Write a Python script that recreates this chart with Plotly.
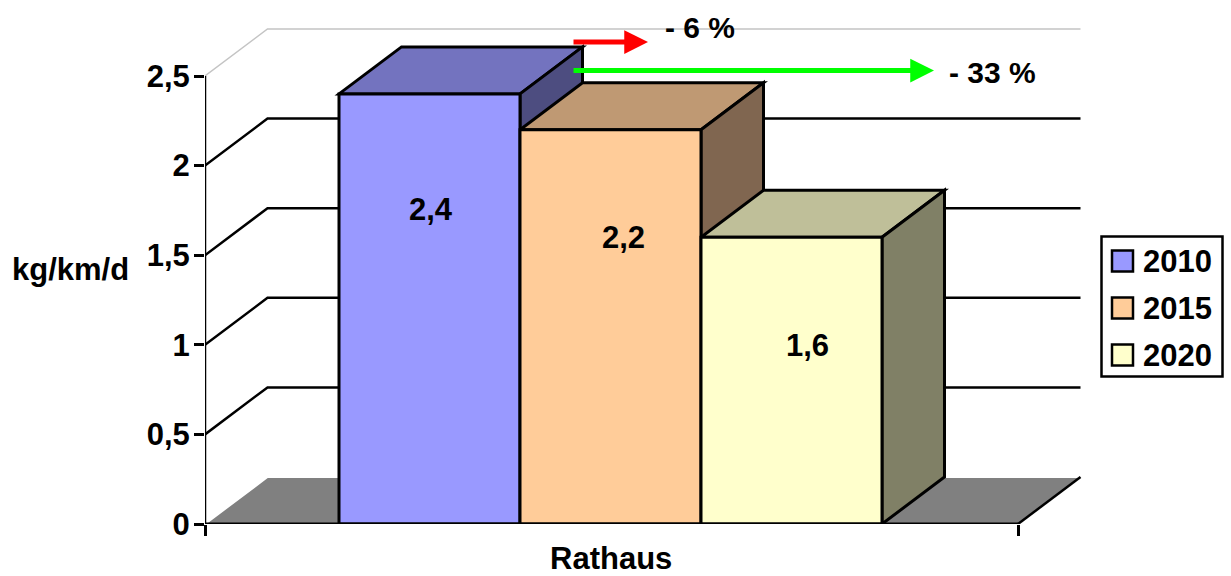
import plotly.graph_objects as go

categories = ["Rathaus"]
years = ["2010", "2015", "2020"]
values = [2.4, 2.2, 1.6]
value_labels = ["2,4", "2,2", "1,6"]
y_ticks = [0, 0.5, 1, 1.5, 2, 2.5]
y_tick_labels = ["0", "0,5", "1", "1,5", "2", "2,5"]
y_title = "kg/km/d"
changes = ["- 6 %", "- 33 %"]

front_colors = ["#9999FF", "#FFCC99", "#FFFFCC"]
top_colors = ["#7373BF", "#BF9973", "#BFBF99"]
side_colors = ["#4D4D80", "#806650", "#808066"]

# geometry of the pseudo-3D box, in axis units
PW = 877.0        # plot width, pixels
PH = 497.0        # plot height, pixels
PX_X = 813.0      # pixels per category
PX_Y = 179.2      # pixels per value unit
DX = 62.5 / PX_X
DY = 47.0 / PX_Y
W = 181.0 / PX_X
X0 = (339.0 - 205.0) / PX_X
X_MAX = PW / PX_X
Y_MAX = PH / PX_Y
FONT = "Liberation Sans"
FS = 30


def px_x(p):
    return (p - 205.0) / PX_X


def px_y(p):
    return (524.0 - p) / PX_Y


def poly(points, fill, line="black", width=3):
    path = "M" + " L".join(f"{x:.5f},{y:.5f}" for x, y in points) + " Z"
    return dict(type="path", path=path, xref="x", yref="y", layer="below",
                fillcolor=fill, line=dict(color=line, width=width))


def seg(points, color="black", width=2.5, layer="below"):
    path = "M" + " L".join(f"{x:.5f},{y:.5f}" for x, y in points)
    return dict(type="path", path=path, xref="x", yref="y", layer=layer,
                line=dict(color=color, width=width))


shapes = []
# floor
shapes.append(poly([(0, 0), (1, 0), (1 + DX, DY), (DX, DY)], "#808080", "rgba(0,0,0,0)", 0))
shapes.append(seg([(0, 0), (DX, DY), (1 + DX, DY)], "white", 2))
shapes.append(seg([(1, 0), (1 + DX, DY)], "black", 2.5))
# back wall lines
for v in y_ticks[1:]:
    col = "#C4C4C4" if v == 2.5 else "black"
    wid = 1.5 if v == 2.5 else 2.5
    shapes.append(seg([(0, v), (DX, v + DY), (1 + DX, v + DY)], col, wid))
# tops and sides of the bars, back to front
for i, v in enumerate(values):
    x1 = X0 + i * W
    x2 = x1 + W
    shapes.append(poly([(x1, v), (x2, v), (x2 + DX, v + DY), (x1 + DX, v + DY)], top_colors[i]))
    shapes.append(poly([(x2, 0), (x2 + DX, DY), (x2 + DX, v + DY), (x2, v)], side_colors[i]))
# axis lines
shapes.append(seg([(0, 0), (0, 2.5)], "black", 2.5, "above"))
shapes.append(seg([(0, 0), (1, 0)], "black", 3, "above"))


def rect(x0, y0, x1, y1, fill, width):
    return dict(type="rect", xref="paper", yref="paper",
                x0=(x0 - 205) / PW, x1=(x1 - 205) / PW,
                y0=(524 - y0) / PH, y1=(524 - y1) / PH,
                fillcolor=fill, line=dict(color="black", width=width), layer="above")


# legend box
shapes.append(rect(1101.5, 236.5, 1222.5, 376.5, "white", 2.5))

annotations = []


def ptext(text, cx, cy, size=FS, anchor="center"):
    annotations.append(dict(text=f"<b>{text}</b>", x=(cx - 205) / PW, y=(524 - cy) / PH,
                            xref="paper", yref="paper", showarrow=False, xanchor=anchor,
                            yanchor="middle", font=dict(family=FONT, size=size, color="black")))


for i, yr in enumerate(years):
    cy = 261 + i * 47
    shapes.append(rect(1112, cy - 10.5, 1133, cy + 10.5, front_colors[i], 2.5))
    ptext(yr, 1141, cy, 31, "left")

# value labels
label_pos = [(431, 210), (623, 237), (807, 345)]
for t, (cx, cy) in zip(value_labels, label_pos):
    ptext(t, cx, cy, 31)
ptext(categories[0], 611, 558, 31)
ptext(y_title, 70, 269, 31)
ptext(changes[0], 700, 27, FS)
ptext(changes[1], 992, 72, FS)

# arrows
for tail, tip, yy, col in [(572, 648, 42, "#FF0000"), (572, 934, 70.5, "#00FF00")]:
    annotations.append(dict(text="", x=px_x(tip), y=px_y(yy), ax=px_x(tail), ay=px_y(yy),
                            xref="x", yref="y", axref="x", ayref="y", showarrow=True,
                            arrowhead=2, arrowsize=0.95, arrowwidth=5, arrowcolor=col))

fig = go.Figure()
for i, yr in enumerate(years):
    fig.add_trace(go.Bar(x=[0.5], y=[values[i]], name=yr, width=[W],
                         offset=[X0 + i * W - 0.5],
                         marker=dict(color=front_colors[i], line=dict(color="black", width=3))))

fig.update_layout(
    width=1231, height=576, margin=dict(l=205, r=149, t=27, b=52, pad=0),
    paper_bgcolor="white", plot_bgcolor="rgba(0,0,0,0)", showlegend=False, barmode="overlay",
    font=dict(family=FONT, color="black"),
    shapes=shapes, annotations=annotations,
    xaxis=dict(range=[0, X_MAX], tickvals=[0, 1], ticktext=["", ""], ticks="outside", ticklen=11,
               tickwidth=2.5, tickcolor="black", showgrid=False, zeroline=False, showline=False),
    yaxis=dict(range=[0, Y_MAX], tickvals=y_ticks, ticktext=[f"<b>{t}</b>" for t in y_tick_labels],
               ticks="outside", ticklen=10, tickwidth=2.5, tickcolor="black", showgrid=False,
               ticklabelstandoff=-2,
               zeroline=False, showline=False, tickfont=dict(family=FONT, size=31, color="black")),
)
fig.write_html("out.html", config={"displayModeBar": False},
               post_script="document.body.style.margin='0';")
